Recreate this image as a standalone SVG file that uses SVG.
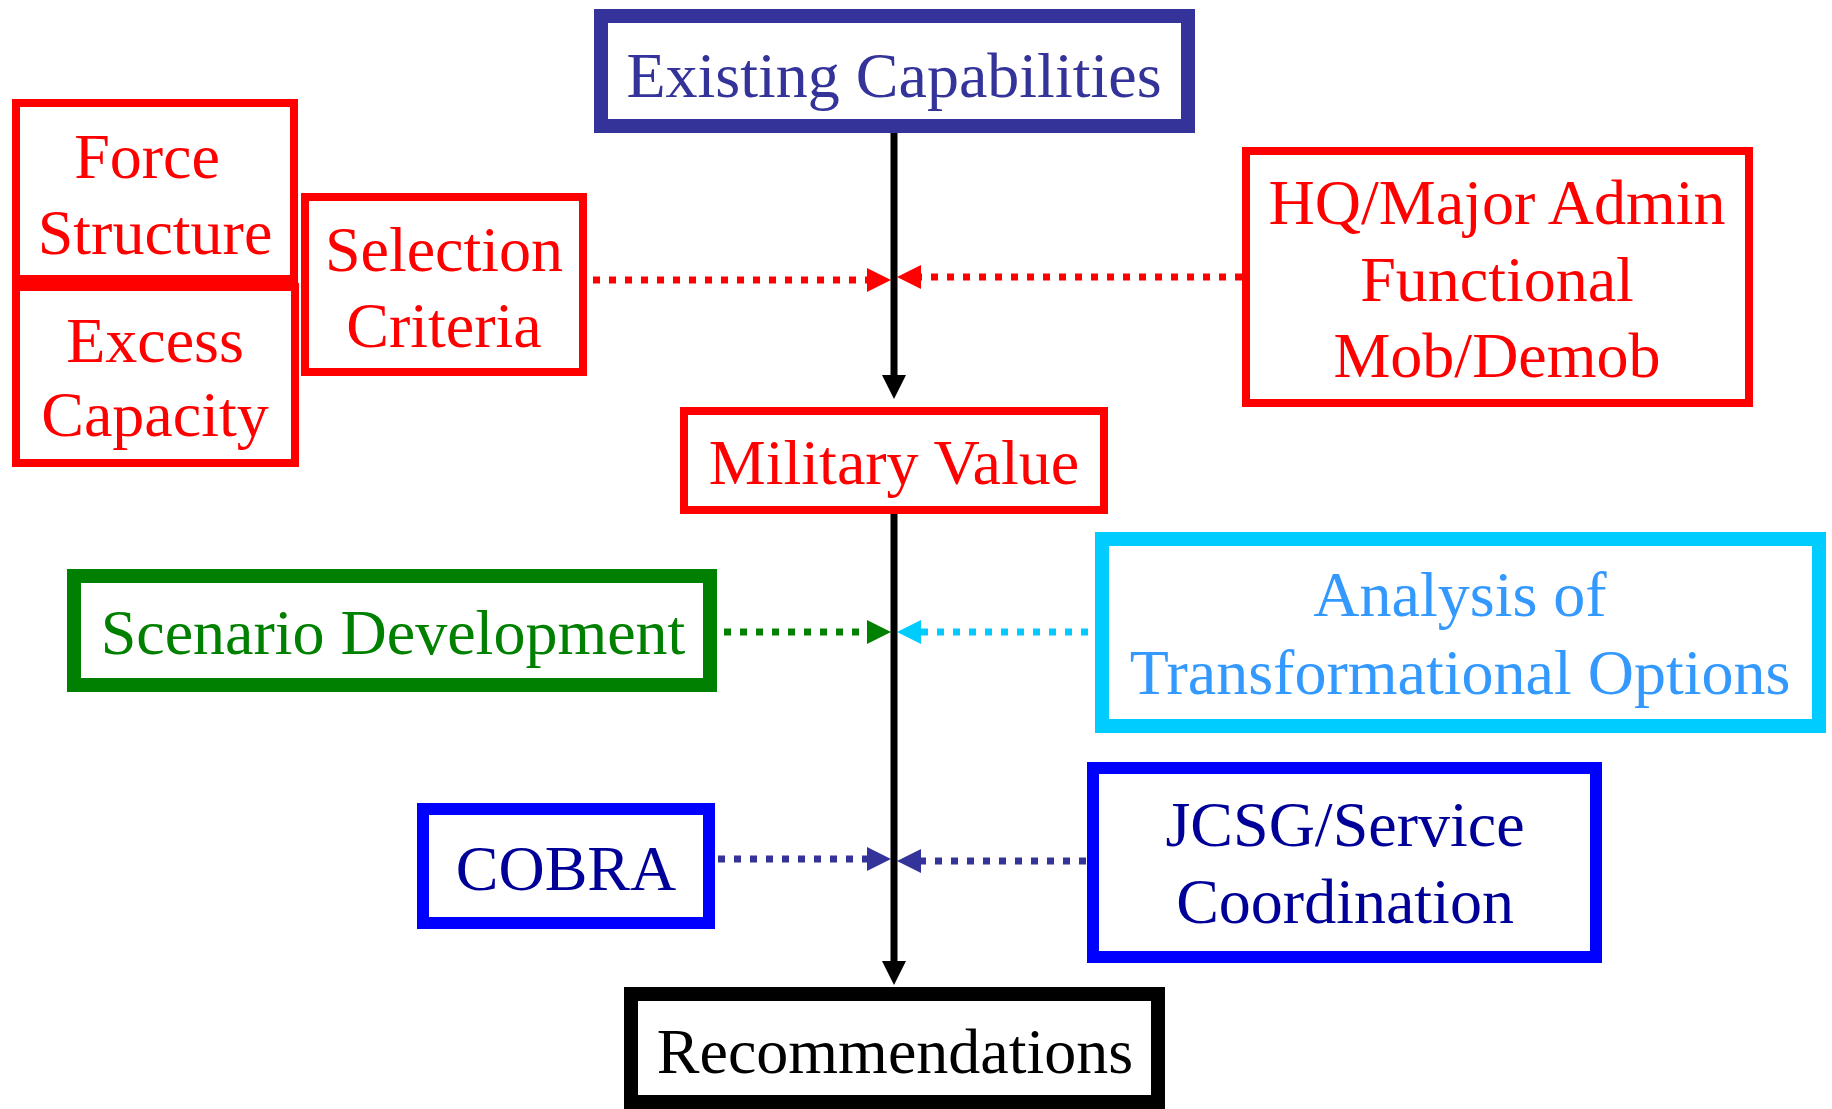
<svg xmlns="http://www.w3.org/2000/svg" xmlns:xlink="http://www.w3.org/1999/xlink" width="1832" height="1109" viewBox="0 0 1832 1109">
<style>
text{font-family:"Liberation Serif","Times New Roman",serif;font-size:64px;text-anchor:middle}
.box{fill:#fff}
.red{stroke:#FF0000;stroke-width:8}
.redt{fill:#FF0000}
.dot{fill:none;stroke-width:7;stroke-dasharray:7 9}
</style>
<defs>
<polygon id="ah" points="-24,-12 0,0 -24,12"/>
</defs>
<rect width="1832" height="1109" fill="#fff"/>
<g id="connectors">
<line x1="894" y1="133" x2="894" y2="380" stroke="#000" stroke-width="7"/>
<use href="#ah" xlink:href="#ah" transform="translate(894,399) rotate(90)" fill="#000"/>
<line x1="894" y1="514" x2="894" y2="966" stroke="#000" stroke-width="7"/>
<use href="#ah" xlink:href="#ah" transform="translate(894,985) rotate(90)" fill="#000"/>
<line class="dot" x1="593" y1="280" x2="869" y2="280" stroke="#FF0000"/>
<use href="#ah" xlink:href="#ah" transform="translate(891,280)" fill="#FF0000"/>
<line class="dot" x1="1242" y1="277" x2="919" y2="277" stroke="#FF0000"/>
<use href="#ah" xlink:href="#ah" transform="translate(897,277) rotate(180)" fill="#FF0000"/>
<line class="dot" x1="724" y1="632" x2="869" y2="632" stroke="#008000"/>
<use href="#ah" xlink:href="#ah" transform="translate(891,632)" fill="#008000"/>
<line class="dot" x1="1088" y1="632" x2="919" y2="632" stroke="#00CCFF"/>
<use href="#ah" xlink:href="#ah" transform="translate(897,632) rotate(180)" fill="#00CCFF"/>
<line class="dot" x1="718" y1="859" x2="869" y2="859" stroke="#333399"/>
<use href="#ah" xlink:href="#ah" transform="translate(891,859)" fill="#333399"/>
<line class="dot" x1="1086" y1="861" x2="919" y2="861" stroke="#333399"/>
<use href="#ah" xlink:href="#ah" transform="translate(897,861) rotate(180)" fill="#333399"/>
</g>
<g id="existing-capabilities">
<rect class="box" x="601" y="16" width="587" height="110" stroke="#333399" stroke-width="14"/>
<text x="894" y="97" fill="#333399">Existing Capabilities</text>
</g>
<g id="force-structure">
<rect class="box red" x="16" y="103" width="278" height="176"/>
<text class="redt" x="147" y="178">Force</text>
<text class="redt" x="155" y="254">Structure</text>
</g>
<g id="excess-capacity">
<rect class="box red" x="16" y="287" width="279" height="176"/>
<text class="redt" x="155" y="362">Excess</text>
<text class="redt" x="155" y="436">Capacity</text>
</g>
<g id="selection-criteria">
<rect class="box red" x="305" y="197" width="278" height="175"/>
<text class="redt" x="444" y="271">Selection</text>
<text class="redt" x="444" y="347">Criteria</text>
</g>
<g id="hq-major-admin">
<rect class="box red" x="1246" y="151" width="503" height="252"/>
<text class="redt" x="1497" y="224">HQ/Major Admin</text>
<text class="redt" x="1497" y="301">Functional</text>
<text class="redt" x="1497" y="377">Mob/Demob</text>
</g>
<g id="military-value">
<rect class="box red" x="684" y="411" width="420" height="99"/>
<text class="redt" x="894" y="484">Military Value</text>
</g>
<g id="scenario-development">
<rect class="box" x="74" y="576" width="636" height="109" stroke="#008000" stroke-width="14"/>
<text x="393" y="654" fill="#008000">Scenario Development</text>
</g>
<g id="analysis-transformational-options">
<rect class="box" x="1102" y="539" width="717" height="187" stroke="#00CCFF" stroke-width="14"/>
<text x="1460" y="616" fill="#3399FF">Analysis of</text>
<text x="1460" y="694" fill="#3399FF">Transformational Options</text>
</g>
<g id="cobra">
<rect class="box" x="423" y="809" width="286" height="114" stroke="#0000FF" stroke-width="12"/>
<text x="566" y="890" fill="#000099">COBRA</text>
</g>
<g id="jcsg-service-coordination">
<rect class="box" x="1093" y="768" width="503" height="189" stroke="#0000FF" stroke-width="12"/>
<text x="1345" y="846" fill="#000099">JCSG/Service</text>
<text x="1345" y="923" fill="#000099">Coordination</text>
</g>
<g id="recommendations">
<rect class="box" x="631" y="994" width="527" height="108" stroke="#000" stroke-width="14"/>
<text x="895" y="1073" fill="#000">Recommendations</text>
</g>
</svg>
